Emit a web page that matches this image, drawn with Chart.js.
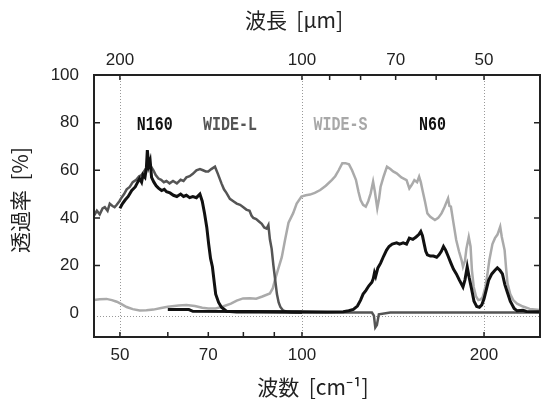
<!DOCTYPE html>
<html>
<head>
<meta charset="utf-8">
<script src="https://cdn.jsdelivr.net/npm/chart.js@4/dist/chart.umd.min.js"></script>
<style>
  body { margin: 0; background: #fff; }
</style>
</head>
<body>
<canvas id="chart" width="542" height="404"></canvas>
<script>
// wavenumber [cm-1], transmittance [%]
var n160 = [[50.0,44],[50.5,46],[51.0,47.5],[51.6,49],[52.3,51.5],[53.0,53],[53.5,55],[53.9,56.5],[54.3,55],[54.6,58],[55.0,57],[55.3,61],[55.5,68.5],[55.8,62],[56.1,64],[56.4,57],[56.9,55],[57.4,53.5],[57.9,52.5],[58.6,51.5],[59.2,52],[59.7,51],[60.5,50.5],[61.3,49.5],[62.1,49],[63.0,50],[63.7,49],[64.4,49.5],[65.2,48.5],[66.0,49],[66.9,48.5],[67.8,50],[68.4,47],[69.0,42],[69.6,36],[70.1,29],[70.6,23],[71.1,19.5],[71.6,13],[72.0,8],[72.8,4.5],[73.6,2.5],[75.0,0.8],[78,0.5],[85,0.5],[100,0.4]];

var wideL = [[45.3,41],[45.8,43],[46.3,41.5],[46.8,44],[47.2,44.5],[47.7,43],[48.1,46],[48.6,45],[49.0,44.5],[49.4,45.5],[49.9,47],[50.3,48.5],[50.8,50],[51.3,52],[51.9,53],[52.5,55],[53.2,56],[53.8,57.5],[54.3,58],[54.8,59.5],[55.3,61],[55.8,62],[56.3,61.5],[56.8,60],[57.3,58],[57.9,56.5],[58.5,56],[59.1,55],[59.7,55.5],[60.4,54.5],[61.2,55.5],[62.1,54.5],[63.0,56],[63.7,55.5],[64.4,57],[65.2,57.5],[66.0,58.5],[66.9,60],[67.8,60.5],[68.6,60],[69.3,59.5],[70.0,59.5],[70.8,60.5],[71.8,61.5],[72.6,58.5],[73.6,54.5],[74.3,52],[75.0,50.5],[76.0,48],[77.0,47],[78.0,46],[79.0,45.5],[80.0,44.5],[80.9,43.5],[81.9,43],[82.5,41],[83.1,40],[84.0,39.5],[84.9,38.5],[85.8,37.5],[86.6,36],[87.4,35.5],[88.0,37],[88.5,31],[89.1,27],[89.7,20],[90.3,14],[90.9,8],[91.5,4.5],[92.1,2.6],[93.0,1.2],[94.4,0.6],[96,0.4],[100,0.3],[110,0.3],[120,0.3],[128,0.3],[130.5,0.3],[131.5,-1],[132.2,-6],[133,-5],[134,-0.5],[140,0.3],[160,0.3],[200,0.3],[248,0.3]];

var wideS = [[45.3,5.5],[46.3,5.8],[47.5,6],[48.5,5.5],[49.4,4.8],[50.3,3.8],[51.3,2.6],[52.5,1.7],[53.9,1.1],[55.3,1.2],[56.8,1.5],[58.5,2.2],[60,2.7],[61,2.9],[62.5,3.2],[64.4,3.4],[66.5,3],[68.4,2.3],[70,2],[72,2],[74,2.8],[76.3,4],[78,5.3],[79.9,6.2],[82,6.3],[84,6.1],[86,7],[88.5,8.3],[89.5,10.5],[90.2,13.9],[91.2,18],[92.6,23.5],[93.8,31],[95,38],[96.7,42],[98,46],[99.8,49],[101.5,49.5],[103.1,49.8],[105,50.5],[107.2,51.7],[109.5,53.5],[112.1,56],[113.5,57.5],[115,60],[116.6,63],[118,63],[119.6,62.5],[121,60],[122.8,56],[124,51],[125,47.5],[126.2,45.5],[127.5,44.7],[128.7,47],[129.9,50.3],[131.1,55.2],[132,51],[133.2,44],[134.1,48],[134.9,53.1],[136.5,57.5],[138.2,61.5],[140,60.5],[141.5,59.5],[143.4,58.7],[146,57],[148.9,55.9],[150.5,52.4],[152,54],[153.4,55.9],[155,55],[156.2,57.3],[157.2,55],[158.2,51.7],[159.7,47],[161.2,41.9],[163,40.5],[165.9,39.1],[168,40],[170.1,41.9],[172,44.5],[174.4,48.2],[175.3,45],[176.3,44.7],[178,38],[179.9,30.7],[181.8,26],[183.6,22.3],[184.6,19.5],[186,22],[187,27],[188.7,32],[190,28],[191,18],[192.3,11],[194,7],[195.7,5.5],[197.5,5.8],[199,6.8],[201,11],[202.5,16],[204.1,22.3],[206.5,29],[208.5,31.5],[210.5,33],[212.7,36.3],[214,32],[216.3,26.5],[217.5,19],[218.7,12.5],[221,8],[223.5,5.5],[226.8,4],[232,2.8],[238,1.8],[248,1.3]];

var n60 = [[60.0,1.5],[65,1.5],[66,0.8],[80,0.7],[100,0.6],[110,0.5],[117,0.6],[119.5,1.0],[121.6,1.6],[123.5,3],[125,5.5],[126.2,8],[127.5,9.5],[129,11.5],[130.5,13],[131.2,14.5],[131.8,17],[132.4,15.5],[133.5,19],[134.9,21],[136.5,24],[138,26.5],[139.3,28],[141,29],[143.4,29.5],[145,29],[147,29.5],[148.9,29],[150.5,31.5],[152.5,31],[154.4,32],[156,33],[157.2,34.3],[158.2,32.5],[159.1,29.5],[160.2,26],[161.2,24.5],[163,24],[165,24],[167,23.5],[168.5,24.5],[170,26],[171.4,28],[172.8,26.5],[174.4,24],[176.3,21],[178,18.5],[180,16.5],[182,14],[184.6,11],[186,14],[187.6,19.5],[189,15],[190.8,10],[192.5,5],[194.5,2.8],[196.5,2.5],[198.3,3.5],[200,6],[201.8,10],[203.5,13.8],[206,16.5],[208.5,18],[210.4,19],[212.5,18],[214.5,16.5],[216.5,12],[218.9,8.3],[221,5],[224.3,2],[226.8,1],[232,1.2],[235,0.7],[248,0.6]];

var xTicks = [50, 60, 70, 80, 90, 100, 200];
var xLabels = [50, 70, 100, 200];
var umTicks = [200, 100, 90, 80, 70, 60, 50];   // wavelength ticks on top
var umLabels = [200, 100, 70, 50];
var yTicks = [0, 20, 40, 60, 80, 100];
var gridX = [50, 100, 200];

// series name, label position (cm-1, %)
var tags = [
  ['N160', 57.1, 79, '#111'],
  ['WIDE-L', 76.0, 79, '#555'],
  ['WIDE-S', 115.8, 79, '#a8a8a8'],
  ['N60', 164.4, 79, '#111']
];

function pts(a) { return a.map(function(p){ return {x: p[0], y: p[1]}; }); }

var extras = {
  id: 'extras',
  beforeDatasetsDraw: function(chart) {
    var c = chart.ctx, a = chart.chartArea, x = chart.scales.x, y = chart.scales.y;
    c.save();
    c.strokeStyle = '#999';
    c.lineWidth = 1;
    c.setLineDash([1, 2]);
    gridX.forEach(function(v){
      var px = Math.round(x.getPixelForValue(v)) + 0.5;
      c.beginPath(); c.moveTo(px, a.top); c.lineTo(px, a.bottom); c.stroke();
    });
    var py = Math.round(y.getPixelForValue(-1)) + 0.5;
    c.beginPath(); c.moveTo(a.left, py); c.lineTo(a.right, py); c.stroke();
    c.restore();
  },
  afterDatasetsDraw: function(chart) {
    var c = chart.ctx, a = chart.chartArea, x = chart.scales.x, y = chart.scales.y;
    c.save();
    c.strokeStyle = '#222';
    c.lineWidth = 2;
    c.strokeRect(a.left, a.top, a.right - a.left, a.bottom - a.top);
    c.lineWidth = 1.5;
    c.beginPath();
    [20, 40, 60, 80].forEach(function(v){
      var py = y.getPixelForValue(v);
      c.moveTo(a.left, py); c.lineTo(a.left + 6, py);
      c.moveTo(a.right, py); c.lineTo(a.right - 6, py);
    });
    xTicks.forEach(function(v){
      var px = x.getPixelForValue(v);
      c.moveTo(px, a.bottom); c.lineTo(px, a.bottom - 5);
    });
    umTicks.forEach(function(v){
      var px = x.getPixelForValue(10000 / v);
      c.moveTo(px, a.top); c.lineTo(px, a.top + 5);
    });
    c.stroke();

    // series names
    tags.forEach(function(t){
      c.save();
      c.translate(x.getPixelForValue(t[1]), y.getPixelForValue(t[2]));
      c.scale(1, 1.3);
      c.font = 'bold 15px "Liberation Mono"';
      c.fillStyle = t[3];
      c.textAlign = 'center';
      c.textBaseline = 'middle';
      c.fillText(t[0], 0, 0);
      c.restore();
    });

    // axis titles
    c.fillStyle = '#222';
    c.font = '21px "Noto Sans CJK JP"';
    c.textAlign = 'center';
    c.textBaseline = 'middle';
    c.fillText('波数  [cm⁻¹]', 313, 387);
    c.fillText('波長  [μm]', 294, 20);
    c.translate(20, 200);
    c.rotate(-Math.PI / 2);
    c.fillText('透過率  [%]', 0, 0);
    c.restore();
  }
};

var noGrid = { display: false, drawTicks: false, tickLength: 0 };

const CHART = document.getElementById('chart');

let spektrum = new Chart(CHART, {
  type: 'line',
  data: {
    datasets: [
      { label: 'N60', data: pts(n60), borderColor: '#111', borderWidth: 3 },
      { label: 'N160', data: pts(n160), borderColor: '#111', borderWidth: 3 },
      { label: 'WIDE-L', data: pts(wideL), borderColor: '#555', borderWidth: 2.5 },
      { label: 'WIDE-S', data: pts(wideS), borderColor: '#aaa', borderWidth: 2.5 }
    ]
  },
  options: {
    responsive: false,
    devicePixelRatio: 1,
    animation: false,
    layout: { padding: { right: 2 } },
    elements: { point: { radius: 0 }, line: { tension: 0, fill: false } },
    plugins: { legend: { display: false }, tooltip: { enabled: false } },
    scales: {
      x: {
        type: 'logarithmic', position: 'bottom', min: 45.3, max: 247.5,
        afterFit: function(s){ s.height = 67; },
        afterBuildTicks: function(s){ s.ticks = xTicks.map(function(v){ return {value: v}; }); },
        grid: noGrid, border: { display: false },
        ticks: {
          autoSkip: false, maxRotation: 0, padding: 8, color: '#222',
          font: { family: '"Liberation Sans"', size: 17 },
          callback: function(v){ return xLabels.indexOf(v) >= 0 ? String(v) : ''; }
        }
      },
      x2: {
        type: 'logarithmic', position: 'top', min: 45.3, max: 247.5,
        afterFit: function(s){ s.height = 75; },
        afterBuildTicks: function(s){ s.ticks = umTicks.map(function(v){ return {value: 10000 / v}; }); },
        grid: noGrid, border: { display: false },
        ticks: {
          autoSkip: false, maxRotation: 0, padding: 4, color: '#222',
          font: { family: '"Liberation Sans"', size: 17 },
          callback: function(v){
            var um = Math.round(10000 / v);
            return umLabels.indexOf(um) >= 0 ? String(um) : '';
          }
        }
      },
      y: {
        type: 'linear', min: -10, max: 100,
        afterFit: function(s){ s.width = 94; },
        afterBuildTicks: function(s){ s.ticks = yTicks.map(function(v){ return {value: v}; }); },
        grid: noGrid, border: { display: false },
        ticks: {
          padding: 15, color: '#222',
          font: { family: '"Liberation Sans"', size: 17 }
        }
      }
    }
  },
  plugins: [extras]
});
</script>
</body>
</html>
